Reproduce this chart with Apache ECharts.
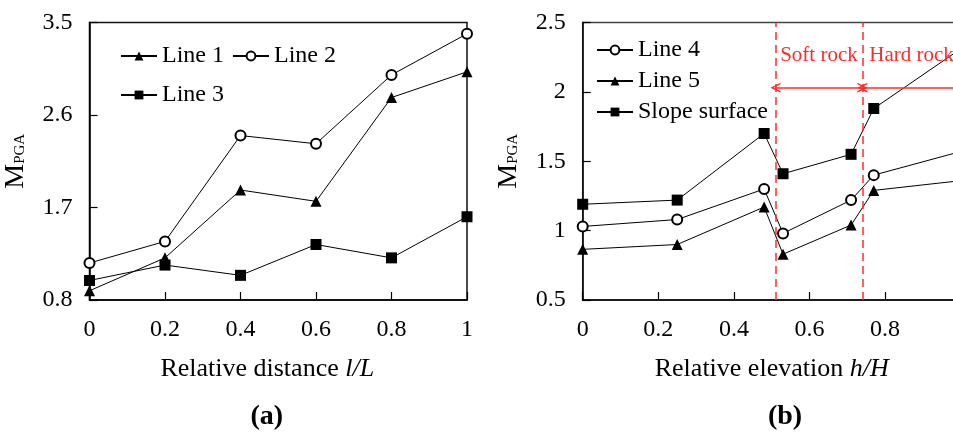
<!DOCTYPE html>
<html>
<head>
<meta charset="utf-8">
<script src="https://cdn.jsdelivr.net/npm/echarts@6/dist/echarts.min.js"></script>
<style>
  html, body { margin: 0; padding: 0; background: #fff; }
  #chart { width: 953px; height: 432px; }
</style>
</head>
<body>
<div id="chart"></div>
<script>
// Panel (a): M_PGA against relative distance l/L
const distX = [0, 0.2, 0.4, 0.6, 0.8, 1];
const line1 = [0.89, 1.21, 1.87, 1.76, 2.77, 3.02];
const line2 = [1.16, 1.37, 2.40, 2.32, 2.99, 3.39];
const line3 = [0.99, 1.14, 1.04, 1.34, 1.21, 1.61];

// Panel (b): M_PGA against relative elevation h/H
const elevX = [0, 0.25, 0.48, 0.53, 0.71, 0.77, 1];
const line4 = [1.03, 1.08, 1.30, 0.98, 1.22, 1.40, 1.57];
const line5 = [0.865, 0.90, 1.17, 0.83, 1.04, 1.29, 1.36];
const slopeSurface = [1.19, 1.22, 1.70, 1.41, 1.55, 1.88, 2.31];

// Rock zones in panel (b): boundaries and labels
const rockBounds = [0.51, 0.74, 1.0];
const rockLabels = ['Soft rock', 'Hard rock'];
const arrowLevel = 2.03;

const FONT = '"Liberation Serif", "Times New Roman", serif';
const RED = '#ff2b2b';
const pairs = (xs, ys) => xs.map((x, i) => [x, ys[i]]);
// open arrowhead pointing along +y of its own box
const chevron = 'path://M5,0 L10,10 L8.4,10 L5,3.2 L1.6,10 L0,10 Z';

const axisCommon = {
  type: 'value',
  axisLine: { show: true, lineStyle: { color: '#000', width: 1.5 } },
  axisTick: { show: true, inside: true, length: 8, lineStyle: { color: '#000', width: 1.2 } },
  axisLabel: { color: '#000', fontSize: 24, fontFamily: FONT, showMinLabel: true, showMaxLabel: true },
  splitLine: { show: false }
};

const yName = {
  name: '{m|M}{p|PGA}',
  nameLocation: 'middle',
  nameRotate: 90,
  nameGap: 60,
  nameTextStyle: {
    rich: {
      m: { fontSize: 28, fontFamily: FONT, color: '#000', verticalAlign: 'bottom' },
      p: { fontSize: 15, fontFamily: FONT, color: '#000', verticalAlign: 'bottom', padding: [0, 0, 2, 0] }
    }
  }
};

const xNameStyle = (pad) => ({
  fontSize: 26, fontFamily: FONT, color: '#000', padding: pad,
  rich: { i: { fontSize: 26, fontFamily: FONT, color: '#000', fontStyle: 'italic' } }
});

const legendCommon = {
  padding: 0,
  itemWidth: 36,
  itemHeight: 11,
  selectedMode: false,
  textStyle: { fontSize: 24, fontFamily: FONT, color: '#000' }
};

function lineSeries(name, xi, xs, ys, symbol, size) {
  return {
    name, type: 'line', xAxisIndex: xi, yAxisIndex: xi,
    data: pairs(xs, ys),
    symbol, symbolSize: size,
    showAllSymbol: true,
    lineStyle: { color: '#000', width: 1 },
    itemStyle: { color: '#000', borderColor: '#000', borderWidth: symbol === 'emptyCircle' ? 1 : 0 },
    emphasis: { disabled: true },
    animation: false
  };
}

const arrowLine = { color: RED, type: 'solid', width: 1.5 };

const chart = echarts.init(document.getElementById('chart'), null, { renderer: 'canvas' });
chart.setOption({
  backgroundColor: '#fff',
  animation: false,
  grid: [
    { left: 89.5, top: 22.5, width: 377.5, height: 277.5, show: true, borderColor: '#111', borderWidth: 1.5, outerBoundsMode: 'none' },
    { left: 582.7, top: 22.5, width: 378, height: 277.5, show: true, borderColor: '#444', borderWidth: 1.5, outerBoundsMode: 'none' }
  ],
  xAxis: [
    Object.assign({}, axisCommon, {
      gridIndex: 0, min: 0, max: 1, interval: 0.2,
      axisLabel: Object.assign({}, axisCommon.axisLabel, { margin: 18 }),
      name: 'Relative distance {i|l/L}', nameLocation: 'middle', nameGap: 56,
      nameTextStyle: xNameStyle([0, 22, 0, 0])
    }),
    Object.assign({}, axisCommon, {
      gridIndex: 1, min: 0, max: 1, interval: 0.2,
      axisLabel: Object.assign({}, axisCommon.axisLabel, { margin: 18 }),
      name: 'Relative elevation {i|h/H}', nameLocation: 'middle', nameGap: 56,
      nameTextStyle: xNameStyle([0, 0, 0, 0])
    })
  ],
  yAxis: [
    Object.assign({}, axisCommon, yName, {
      gridIndex: 0, min: 0.8, max: 3.5, interval: 0.9,
      axisLabel: Object.assign({}, axisCommon.axisLabel, { margin: 17 })
    }),
    Object.assign({}, axisCommon, yName, {
      gridIndex: 1, min: 0.5, max: 2.5, interval: 0.5,
      axisLabel: Object.assign({}, axisCommon.axisLabel, { margin: 17 })
    })
  ],
  legend: [
    Object.assign({}, legendCommon, { data: ['Line 1', 'Line 2'], left: 120, top: 44, itemGap: 8 }),
    Object.assign({}, legendCommon, { data: ['Line 3'], left: 120, top: 83 }),
    Object.assign({}, legendCommon, { data: ['Line 4', 'Line 5', 'Slope surface'], orient: 'vertical', left: 596, top: 38, itemGap: 7 })
  ],
  graphic: [
    { type: 'text', x: 266.7, y: 417, style: { text: '(a)', font: 'bold 28px ' + FONT, fill: '#000', align: 'center', verticalAlign: 'middle' } },
    { type: 'text', x: 785, y: 417, style: { text: '(b)', font: 'bold 28px ' + FONT, fill: '#000', align: 'center', verticalAlign: 'middle' } }
  ],
  series: [
    lineSeries('Line 1', 0, distX, line1, 'triangle', 11),
    lineSeries('Line 2', 0, distX, line2, 'emptyCircle', 10),
    lineSeries('Line 3', 0, distX, line3, 'rect', 11),
    lineSeries('Line 4', 1, elevX, line4, 'emptyCircle', 10),
    lineSeries('Line 5', 1, elevX, line5, 'triangle', 11),
    lineSeries('Slope surface', 1, elevX, slopeSurface, 'rect', 11),
    {
      // dashed zone boundaries
      type: 'line', xAxisIndex: 1, yAxisIndex: 1, data: [], silent: true,
      markLine: {
        silent: true, animation: false, symbol: 'none',
        lineStyle: { color: RED, type: [8, 5], width: 1.5 },
        label: { show: false },
        emphasis: { disabled: true },
        data: rockBounds.slice(0, 2).map(v => ({ xAxis: v }))
      }
    },
    {
      // zone extent arrows with labels
      type: 'line', xAxisIndex: 1, yAxisIndex: 1, data: [], silent: true,
      color: RED,
      markLine: {
        silent: true, animation: false,
        symbol: [chevron, chevron], symbolSize: 10,
        lineStyle: arrowLine,
        itemStyle: { color: RED },
        emphasis: { disabled: true },
        label: { show: true, position: 'middle', formatter: '{b}', color: RED, fontSize: 21, fontFamily: FONT, distance: 22 },
        data: rockLabels.map((t, i) => [
          { coord: [rockBounds[i], arrowLevel], name: t, lineStyle: arrowLine, itemStyle: { color: RED } },
          { coord: [rockBounds[i + 1], arrowLevel], lineStyle: arrowLine, itemStyle: { color: RED } }
        ])
      }
    }
  ]
});
</script>
</body>
</html>
